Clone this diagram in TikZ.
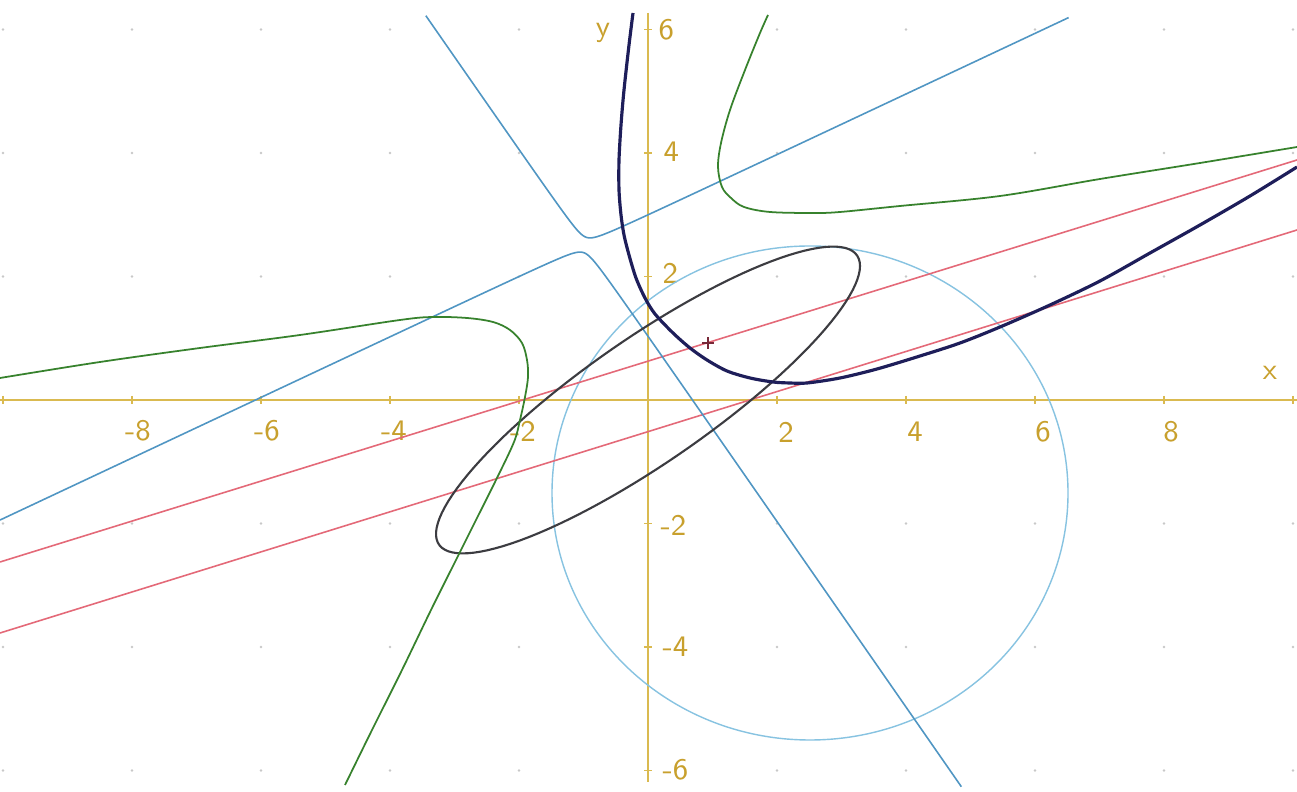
\documentclass[tikz,border=0pt]{standalone}
\usepackage{xcolor}
\definecolor{axiscol}{RGB}{218,186,80}
\definecolor{labcol}{RGB}{200,160,45}
\definecolor{redl}{RGB}{228,105,120}
\definecolor{bluel}{RGB}{80,150,195}
\definecolor{circl}{RGB}{135,195,225}
\definecolor{greenl}{RGB}{55,130,45}
\definecolor{navyl}{RGB}{30,30,90}
\definecolor{ellc}{RGB}{60,60,65}
\definecolor{plusc}{RGB}{120,40,55}
\definecolor{dotc}{RGB}{200,200,200}
\begin{document}
\begin{tikzpicture}[x=0.01cm,y=-0.01cm,
  axisline/.style={draw=axiscol, line width=0.45pt},
  ticks/.style={draw=axiscol, line width=0.4pt},
  lab/.style={text=labcol, font=\sffamily\fontsize{8.5}{10}\selectfont, inner sep=0pt},
  redline/.style={draw=redl, line width=0.45pt},
  blueline/.style={draw=bluel, line width=0.45pt},
  circline/.style={draw=circl, line width=0.4pt},
  greenline/.style={draw=greenl, line width=0.5pt},
  navyline/.style={draw=navyl, line width=0.9pt},
  ellline/.style={draw=ellc, line width=0.6pt},
  gdot/.style={fill=dotc, draw=none}]
\useasboundingbox (0,0) rectangle (1297,792);
\fill[white] (0,0) rectangle (1297,792);

% faint grid dots
\foreach \gx in {-10,-8,-6,-4,-2,2,4,6,8,10}{
  \foreach \gy in {-6,-4,-2,2,4,6}{
    \fill[gdot] ({648+64.5*\gx},{400-61.75*\gy}) circle (1.3);
  }
}

% axes
\coordinate (xl) at (0,400);
\coordinate (xr) at (1297,400);
\coordinate (yt) at (648,13);
\coordinate (yb) at (648,782);
\draw[axisline] (xl) -- (xr);
\draw[axisline] (yt) -- (yb);
\foreach \gx in {-10,-8,-6,-4,-2,2,4,6,8,10}{
  \draw[ticks] ({648+64.5*\gx},396) -- ({648+64.5*\gx},404);
}
\foreach \gy in {-6,-4,-2,2,4,6}{
  \draw[ticks] (644,{400-61.75*\gy}) -- (652,{400-61.75*\gy});
}

% axis labels
\node[lab] (lxm8) at (138,431) {-8};
\node[lab] (lxm6) at (267,431) {-6};
\node[lab] (lxm4) at (394,431) {-4};
\node[lab] (lxm2) at (523,431) {-2};
\node[lab] (lx2) at (786,432) {2};
\node[lab] (lx4) at (915,432) {4};
\node[lab] (lx6) at (1043,432) {6};
\node[lab] (lx8) at (1171,432) {8};
\node[lab, anchor=west] (ly6) at (658,30) {6};
\node[lab, anchor=west] (ly4) at (663,152) {4};
\node[lab, anchor=west] (ly2) at (662,273) {2};
\node[lab, anchor=west] (lym2) at (660,525) {-2};
\node[lab, anchor=west] (lym4) at (662,647) {-4};
\node[lab, anchor=west] (lym6) at (662,770) {-6};
\node[lab] (lx) at (1270,373) {x};
\node[lab] (ly) at (603,33) {y};

% circle
\draw[circline] (810,493) ellipse [x radius=258, y radius=247];

% red parallel lines
\coordinate (r1a) at (0,562);
\coordinate (r1b) at (1297,160);
\coordinate (r2a) at (0,633);
\coordinate (r2b) at (1297,230);
\draw[redline] (r1a) -- (r1b);
\draw[redline] (r2a) -- (r2b);

% blue (nearly degenerate) hyperbola
\draw[blueline] plot[domain=-3.84:4.49, samples=240, variable=\t]
  ({585+6*(exp(\t)*0.905+exp(-\t)*(-0.5706))},{245+6*(exp(\t)*(-0.4254)+exp(-\t)*(-0.8212))});
\draw[blueline] plot[domain=-4.70:4.68, samples=240, variable=\t]
  ({585-6*(exp(\t)*0.905+exp(-\t)*(-0.5706))},{245-6*(exp(\t)*(-0.4254)+exp(-\t)*(-0.8212))});

% ellipse
\draw[ellline] plot[domain=0:360, samples=120, variable=\t]
  ({648+212*cos(\t)},{400-134*cos(\t)-74.7*sin(\t)}) -- cycle;

% green hyperbola
\draw[greenline] plot[smooth, tension=0.55] coordinates {
  (768,15) (760,33) (745,70) (730,110) (721,143) (718,167) (722,187)
  (731,198) (744,207) (770,212) (813,213) (840,212) (900,206) (1000,196)
  (1100,179) (1200,163) (1297,147)};
\draw[greenline] plot[smooth, tension=0.55] coordinates {
  (0,378) (100,362) (200,348) (300,335) (400,320) (433,317) (467,318)
  (493,322) (510,330) (522,343) (527,360) (528,377) (525,397) (520,420)
  (514,442) (496,480) (476,520) (456,560) (431,610) (402,670) (372,730) (345,785)};

% navy hyperbola branch
\draw[navyline] plot[smooth, tension=0.5] coordinates {
  (633,13) (629,45) (624,90) (621,125) (619,160) (619,190) (621,215)
  (624,235) (629,255) (636,278) (645,298) (655,314) (673,333) (690,348)
  (707,360) (727,371) (750,378) (773,382) (790,383) (807,383) (840,378)
  (877,369) (920,356) (960,343) (1000,327) (1050,305) (1100,281)
  (1150,253) (1200,225) (1250,196) (1297,167)};

% plus marker
\coordinate (pc) at (708,343);
\draw[draw=plusc, line width=0.5pt] ([xshift=-0.06cm]pc) -- ([xshift=0.06cm]pc);
\draw[draw=plusc, line width=0.5pt] ([yshift=-0.06cm]pc) -- ([yshift=0.06cm]pc);
\end{tikzpicture}
\end{document}
